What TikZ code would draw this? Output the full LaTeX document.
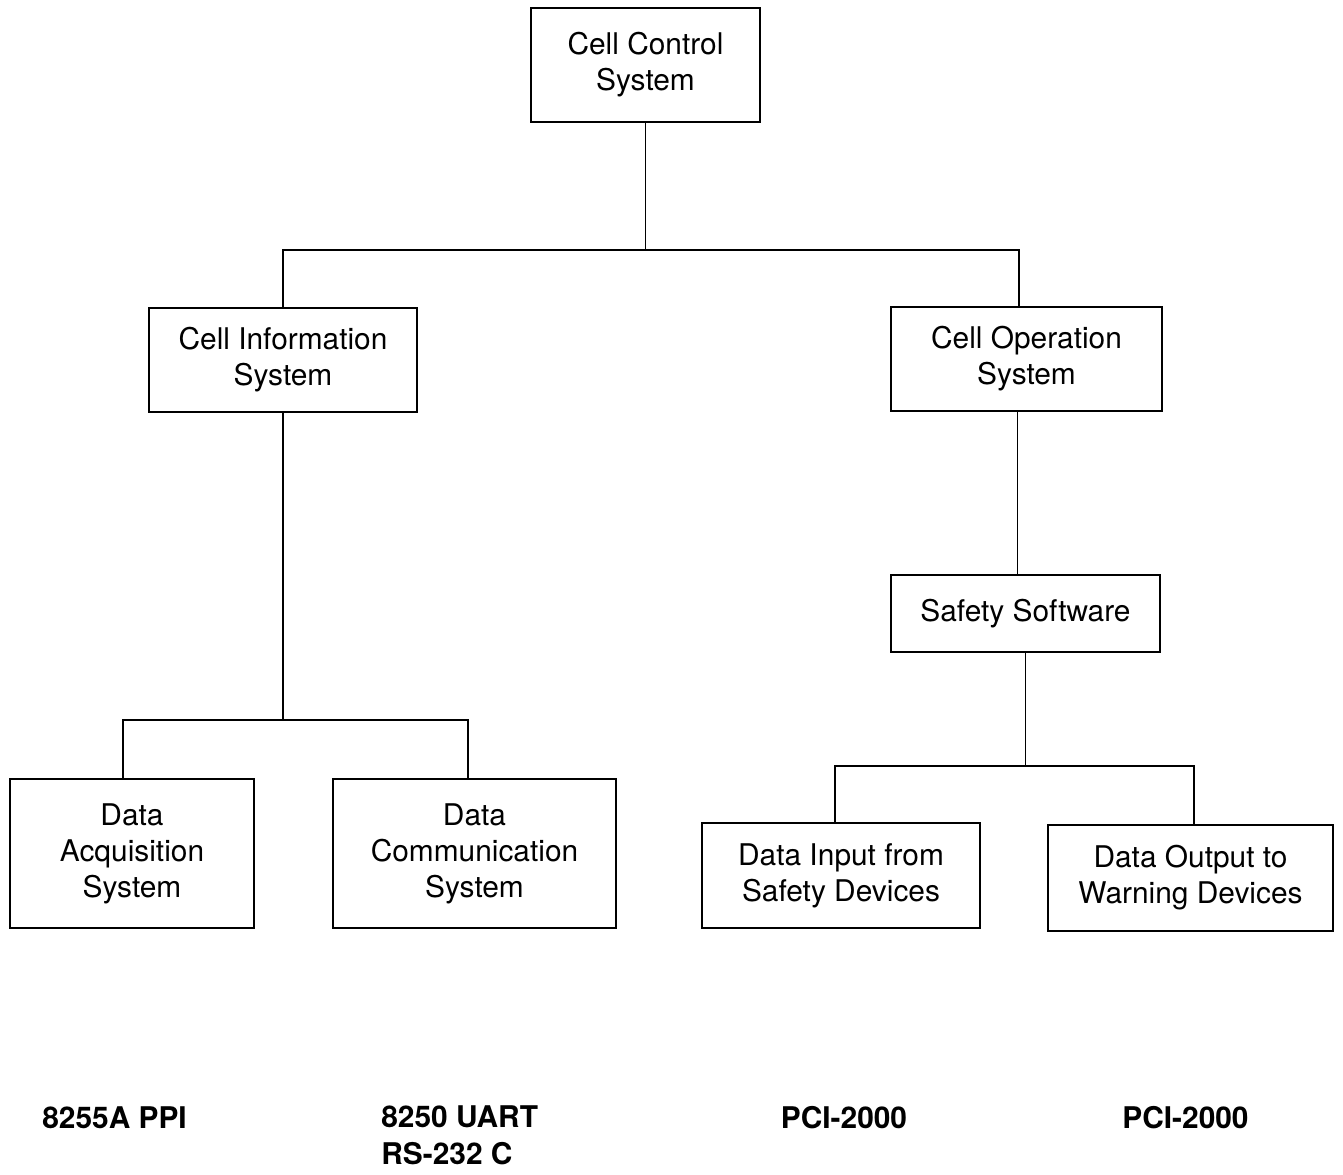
\documentclass[tikz,border=0pt]{standalone}
\usepackage{fontspec}
\setmainfont{TeX Gyre Heros}
\usepackage{tikz}
\usetikzlibrary{positioning}
\tikzset{blk/.style = {draw, line width = 1.3pt, align = center, inner sep = 0,
                       font = \fontsize{17}{20.5}\selectfont}}
\tikzset{link/.style = {line width = 1.1pt}}
\tikzset{chip/.style = {inner sep = 0, align = left,
                        font = \fontsize{17}{21}\selectfont\bfseries}}

\begin{document}
\begin{tikzpicture}[x = 0.02cm, y = -0.02cm]
    \useasboundingbox (0, 0) rectangle (1343, 1175);

    \node [blk, minimum width = 4.58cm, minimum height = 2.28cm] (ccs) at (645.5, 65) {Cell Control\\System};
    \node [blk, minimum width = 5.36cm, minimum height = 2.08cm] (cis) at (283, 360) {Cell Information\\System};
    \node [blk, minimum width = 5.42cm, minimum height = 2.08cm] (cos) at (1026.5, 359) {Cell Operation\\System};
    \node [blk, minimum width = 5.38cm, minimum height = 1.54cm] (ss) at (1025.5, 613.5) {Safety Software};
    \node [blk, minimum width = 4.88cm, minimum height = 2.98cm] (das) at (132, 853.5) {Data\\Acquisition\\System};
    \node [blk, minimum width = 5.66cm, minimum height = 2.98cm] (dcs) at (474.5, 853.5) {Data\\Communication\\System};
    \node [blk, minimum width = 5.56cm, minimum height = 2.10cm] (dif) at (841, 875.5) {Data Input from\\Safety Devices};
    \node [blk, minimum width = 5.70cm, minimum height = 2.12cm] (dow) at (1190.5, 878) {Data Output to\\Warning Devices};

    \coordinate (top bar) at (0, 250);
    \coordinate (left bar) at (0, 720);
    \coordinate (right bar) at (0, 766);

    \draw [link] (ccs.south) -- (ccs.south |- top bar);
    \draw [link] (cis.north) -- (cis.north |- top bar) -- ([xshift = -0.15cm]cos.north |- top bar) -- ([xshift = -0.15cm]cos.north);
    \draw [link] (cis.south) -- (cis.south |- left bar);
    \draw [link] ([xshift = -0.18cm]das.north) -- ([xshift = -0.18cm]das.north |- left bar) -- ([xshift = -0.13cm]dcs.north |- left bar) -- ([xshift = -0.13cm]dcs.north);
    \draw [link] ([xshift = -0.18cm]cos.south) -- ([xshift = -0.18cm]cos.south |- ss.north);
    \draw [link] (ss.south) -- (ss.south |- right bar);
    \draw [link] ([xshift = -0.12cm]dif.north) -- ([xshift = -0.12cm]dif.north |- right bar) -- ([xshift = 0.07cm]dow.north |- right bar) -- ([xshift = 0.07cm]dow.north);

    \node [chip, anchor = west] (ppi) at (42, 1118) {8255A PPI};
    \node [chip, anchor = north west] (uart) at (381, 1105) {8250 UART\\RS-232 C};
    \node [chip] (pci in) at (844, 1118) {PCI-2000};
    \node [chip] (pci out) at (1185.5, 1118) {PCI-2000};
\end{tikzpicture}
\end{document}
